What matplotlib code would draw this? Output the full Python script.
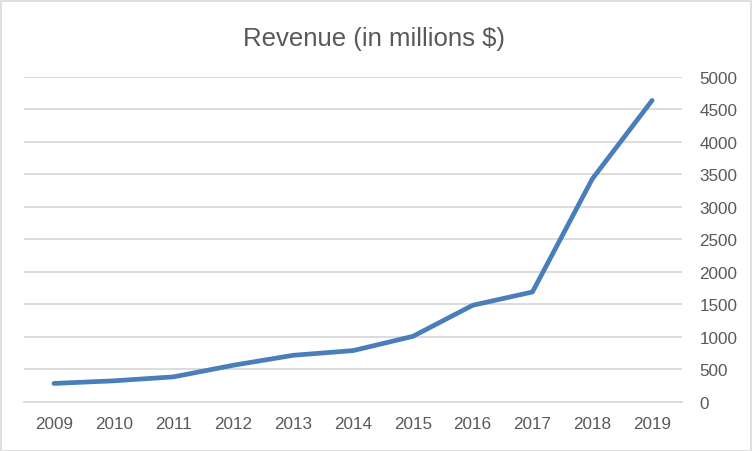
import matplotlib.pyplot as plt
from matplotlib.patches import Rectangle

years = ["2009", "2010", "2011", "2012", "2013", "2014", "2015", "2016", "2017", "2018", "2019"]
revenue = [281, 321, 382, 561, 714, 786, 1005, 1483, 1688, 3427, 4635]
yticks = [0, 500, 1000, 1500, 2000, 2500, 3000, 3500, 4000, 4500, 5000]

plt.rcParams['font.family'] = ['Liberation Sans', 'DejaVu Sans']

fig = plt.figure(figsize=(7.52, 4.52), dpi=100)
ax = fig.add_axes([24 / 752, 1 - 402.7 / 452, 658 / 752, 325 / 452])

x = list(range(len(years)))
ax.plot(x, revenue, color='#4a7ebb', linewidth=3.4, solid_capstyle='round', zorder=3)

ax.set_xlim(-0.5, len(years) - 0.5)
ax.set_ylim(0, 5000)
ax.set_xticks(x)
ax.set_xticklabels(years)
ax.set_yticks(yticks)
ax.yaxis.tick_right()
for lab in ax.get_yticklabels():
    lab.set_horizontalalignment('left')

ax.tick_params(axis='both', length=0, labelsize=12.3, colors='#595959')
ax.tick_params(axis='y', pad=12.5)
ax.tick_params(axis='x', pad=10)

ax.grid(axis='y', color='#d9d9d9', linewidth=1.3)
ax.set_axisbelow(True)
for side in ['top', 'left', 'right']:
    ax.spines[side].set_visible(False)
ax.spines['bottom'].set_color('#d9d9d9')
ax.spines['bottom'].set_linewidth(1.3)

fig.text(374 / 752, 1 - 39 / 452, "Revenue (in millions $)", ha='center', va='center',
         fontsize=18.5, color='#595959')

fig.patches.append(Rectangle((0.5 / 752, 0.5 / 452), 750 / 752, 450 / 452,
                             transform=fig.transFigure, fill=False,
                             edgecolor='#d9d9d9', linewidth=1.2))

fig.savefig("out.png", dpi=100)
